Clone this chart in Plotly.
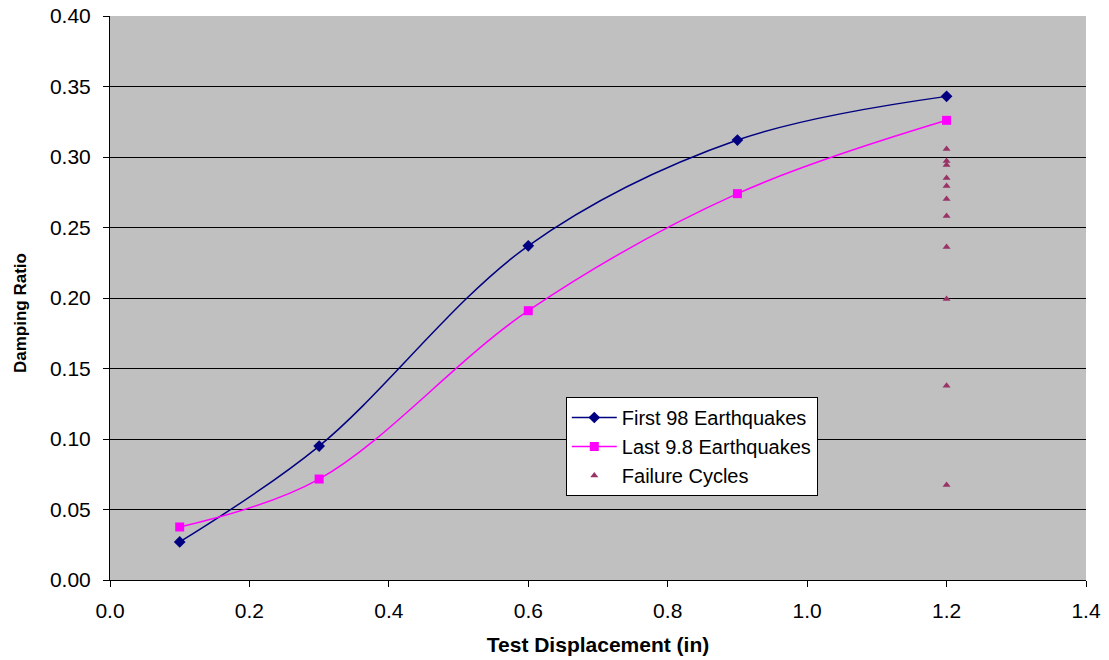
import plotly.graph_objects as go

disp = [0.1, 0.3, 0.6, 0.9, 1.2]
first_98 = [0.027, 0.095, 0.237, 0.312, 0.343]
last_9_8 = [0.0376, 0.0716, 0.191, 0.274, 0.326]
fail_x = [1.2] * 11
fail_y = [0.3057, 0.2972, 0.2943, 0.2851, 0.2794, 0.2702, 0.2582, 0.2362, 0.1993, 0.1378, 0.0674]

font_family = "Arial, Liberation Sans, sans-serif"

fig = go.Figure()
fig.add_trace(go.Scatter(
    x=disp, y=first_98, name="First 98 Earthquakes", mode="lines+markers",
    line=dict(color="#000080", width=1.5, shape="spline", smoothing=1.0),
    marker=dict(symbol="diamond", size=9, color="#000080"),
))
fig.add_trace(go.Scatter(
    x=disp, y=last_9_8, name="Last 9.8 Earthquakes", mode="lines+markers",
    line=dict(color="#FF00FF", width=1.5, shape="spline", smoothing=1.0),
    marker=dict(symbol="square", size=9, color="#FF00FF"),
))
fig.add_trace(go.Scatter(
    x=fail_x, y=fail_y, name="Failure Cycles", mode="markers",
    marker=dict(symbol="triangle-up", size=7, color="#993366"),
))

fig.update_layout(
    width=1109, height=660,
    margin=dict(l=110, r=23, t=16, b=80),
    paper_bgcolor="white", plot_bgcolor="#C0C0C0",
    font=dict(family=font_family, size=21, color="black"),
    legend=dict(
        x=0.467, y=0.3245, xanchor="left", yanchor="top",
        bgcolor="white", bordercolor="black", borderwidth=1,
        font=dict(size=20), tracegroupgap=0, itemwidth=45,
    ),
    xaxis=dict(
        range=[0, 1.4], dtick=0.2, tick0=0, tickformat=".1f",
        showgrid=False, zeroline=False, showline=True, linecolor="black", linewidth=1,
        ticks="outside", ticklen=6, tickcolor="black", automargin=False,
        ticklabelstandoff=6,
        title=dict(text="<b>Test Displacement (in)</b>", font=dict(size=21), standoff=16),
    ),
    yaxis=dict(
        range=[0, 0.40], dtick=0.05, tick0=0, tickformat=".2f",
        showgrid=True, gridcolor="black", gridwidth=1,
        zeroline=False, showline=True, linecolor="black", linewidth=1,
        ticks="outside", ticklen=6, tickcolor="black", automargin=False,
        ticklabelstandoff=8,
    ),
    annotations=[dict(
        text="<b>Damping Ratio</b>", textangle=-90, showarrow=False,
        xref="paper", yref="paper", x=-0.0922, y=0.4734,
        xanchor="center", yanchor="middle", font=dict(size=17),
    )],
)

fig.write_html("out.html")
